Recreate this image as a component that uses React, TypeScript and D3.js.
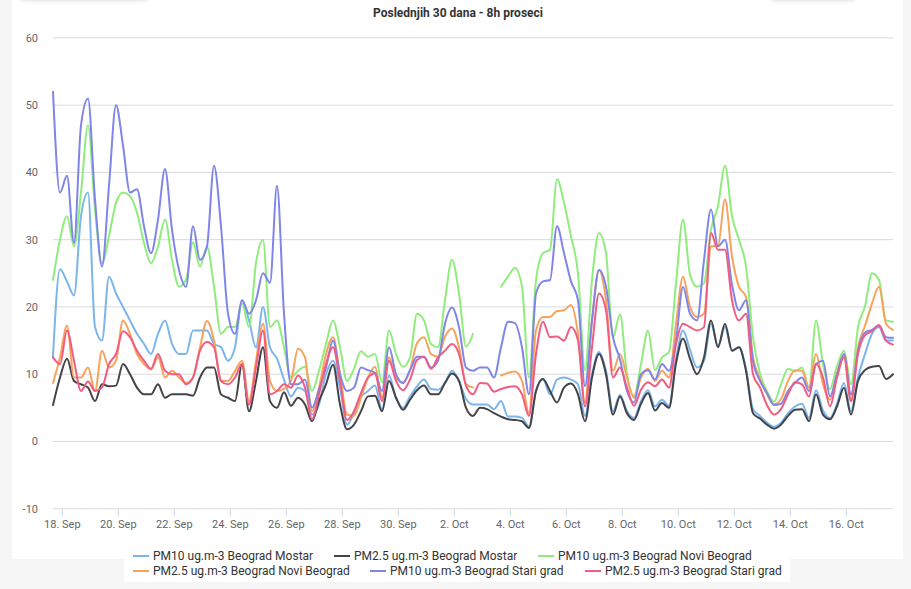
import React from 'react';
import * as d3 from 'd3';

// ---- data: 8h averages sampled every 6 hours from 17 Sep 16:00 ----
const START = Date.UTC(2019, 8, 17, 16);
const STEP_MS = 6 * 3600 * 1000;

const yTickValues = [-10, 0, 10, 20, 30, 40, 50, 60];
const xTickStart = Date.UTC(2019, 8, 18);
const xTickEnd = Date.UTC(2019, 9, 17);

const seriesNames = [
  'PM10 ug.m-3 Beograd Mostar',
  'PM2.5 ug.m-3 Beograd Mostar',
  'PM10 ug.m-3 Beograd Novi Beograd',
  'PM2.5 ug.m-3 Beograd Novi Beograd',
  'PM10 ug.m-3 Beograd Stari grad',
  'PM2.5 ug.m-3 Beograd Stari grad',
];
const seriesColors = ['#7cb5ec', '#434348', '#90ed7d', '#f7a35c', '#8085e9', '#f15c80'];

const pm10Mostar: (number | null)[] = [
  12.6, 25.6, 23.8, 21.7, 33.5, 37, 17, 15, 24.5, 22, 20, 18, 16, 14.5, 13, 16, 18, 14.5, 13, 13,
  16.5, 16.5, 16.5, 14.5, 14, 12, 14, 21, 18, 14, 20, 14, 12.3, 9.2, 6.7, 8, 7.5, 4, 5.5, 10,
  12, 8, 2.5, 4.2, 6.6, 7.5, 8.3, 4.7, 9.8, 6.5, 5, 6.7, 8.2, 9.2, 7.8, 7.7, 8.7, 10.5, 9, 6.3,
  5.5, 5.5, 5.5, 4.8, 6, 3.7, 3.7, 3.5, 2.2, 7.5, 9.3, 7, 9.2, 9.5, 9.2, 8.5, 3.8, 10, 13.3, 10.5,
  4.5, 6.9, 4.5, 3.5, 6, 7.6, 5.2, 6.2, 5.3, 12.2, 16.5, 13.6, 11, 12, 17.5, 14.2, 17, 13.5, 14, 10.8,
  4.8, 3.8, 2.8, 2.2, 2.8, 4.2, 5.2, 5.6, 3.5, 7.6, 4.6, 3.5, 5.6, 8.7, 4.5, 9.5, 13, 16, 17, 15,
  15,
];
const pm25Mostar: (number | null)[] = [
  5.4, 9.5, 12.3, 9, 8.5, 8, 6, 8.5, 8.2, 8.3, 11.5, 10, 8, 7, 7, 8.5, 6.5, 7, 7, 7,
  6.8, 9.5, 11, 11, 7, 6.5, 6, 11.5, 4.5, 9, 14, 6, 5, 7.3, 5.3, 6.5, 5.5, 3, 6, 8.5,
  11.4, 5.5, 1.8, 2.5, 4.5, 6.7, 6.8, 4.5, 9, 6.5, 4.7, 6.2, 7.6, 8.3, 7, 7, 8.7, 10.1, 9, 5,
  3.8, 5, 4.8, 4.2, 3.7, 3.3, 3.2, 3, 2, 7.5, 9.3, 7.5, 5.8, 8, 8.6, 7, 3, 9.5, 13, 10,
  4, 6.7, 4.2, 3.2, 5.6, 7.2, 4.6, 5.7, 5, 11.6, 15.3, 12.3, 10, 12.5, 18, 14, 17.5, 13.5, 14, 10.5,
  4.2, 3.4, 2.5, 1.9, 2.5, 3.8, 4.7, 4.8, 3, 7, 4, 3.3, 5.2, 8, 4, 9, 10.6, 11.1, 11.2, 9.3,
  10,
];
const pm10NoviBeograd: (number | null)[] = [
  24, 30, 33.5, 29, 37, 47, 34.5, 26.5, 30.5, 35.5, 37, 36.5, 34, 29.5, 26.5, 29, 33, 27, 23, 24,
  29.6, 26, 29, 23, 16, 17, 17, 20.5, 17, 26.5, 30, 17, 18, 14, 9.5, 10.5, 11.1, 7.5, 10.5, 14.5,
  18, 14, 9, 10.8, 13.4, 12.6, 13, 8.8, 16.5, 13, 11.1, 12.5, 19, 18, 14.5, 14, 21, 27, 22, 14.1,
  16, null, null, null, 23, 24.5, 25.8, 23, 9.5, 24, 28, 28.5, 39, 35.5, 30.5, 25, 10.6, 24, 31, 28,
  15.5, 18.9, 10, 6.8, 11.5, 16.5, 10.6, 12.5, 13.3, 23.5, 33, 24.8, 23, 23.5, 31.5, 35, 41, 33.5, 30, 26,
  15.5, 10.1, 7.5, 5.9, 8.5, 10.8, 10.4, 11, 8, 18, 11.5, 7.8, 11.2, 13.5, 8.5, 17, 20.1, 25, 24, 18,
  17.8,
];
const pm25NoviBeograd: (number | null)[] = [
  8.7, 12.5, 17.2, 9.5, 9.5, 11, 7.5, 13.5, 11, 12, 18, 16, 13, 11.5, 10.7, 12.5, 9.5, 10.5, 9.5, 8.7,
  9.5, 14, 17.9, 15, 9, 9, 10.5, 12, 6, 12, 17.5, 9, 7.5, 7.8, 9, 13.8, 12.5, 4.5, 8, 13,
  15.5, 10, 4, 3.8, 6.5, 9.5, 11.1, 6.5, 12.5, 9.5, 8.7, 10.6, 14.6, 15.5, 13, 12.6, 15.6, 16.8, 14, 8.5,
  8, null, null, null, 9.8, 10.2, 10.4, 9, 4.2, 16.5, 18.5, 18.5, 19.4, 19.5, 20.3, 16, 5.8, 18, 25.5, 21,
  10.5, 13, 9.5, 6.5, 9.5, 10.8, 9, 10.5, 9.5, 17.5, 24.5, 20, 18.5, 19, 29, 29.1, 36, 27.5, 23, 21.5,
  12.5, 9.3, 7, 5.5, 6.3, 9, 10.6, 10.5, 8, 13, 8.5, 6.2, 10, 12.8, 6, 14, 17.2, 20.5, 23, 17.5,
  16.6,
];
const pm10StariGrad: (number | null)[] = [
  52, 37, 39.5, 29.5, 47, 51, 36, 26, 38, 50, 44, 37, 37.5, 32, 28, 33, 40.5, 31.5, 25.5, 23,
  32, 27, 29, 41, 32, 19, 16, 21, 19, 21, 25, 23.6, 38, 19, 8.5, 8.5, 9.2, 5, 7.7, 11,
  15, 10, 7.5, 8, 11, 10.6, 10.2, 7.5, 14, 10, 8.7, 10.6, 12.6, 12.6, 11, 12, 17.5, 19.9, 17, 11,
  10.5, 11, 11, 9.5, 14, 17.8, 17.6, 14, 7, 22, 23.8, 24, 32, 28, 23.8, 21, 8.2, 18, 25.5, 23,
  15.5, 12.2, 7.5, 5.8, 10, 10.6, 9.2, 11.5, 10.5, 15, 23, 19, 18, 27, 34.5, 29, 30, 23.3, 19.5, 21,
  12, 9, 7.2, 5.4, 5.6, 7.5, 8.7, 9.5, 7.5, 11.5, 12, 6.7, 10, 13, 7, 13.5, 16.2, 16.6, 17.2, 15.5,
  15.4,
];
const pm25StariGrad: (number | null)[] = [
  12.5, 11.5, 16.5, 12, 7.5, 8.9, 7.5, 8, 11.5, 13, 16.4, 15.5, 13.5, 12, 10.8, 13, 10.5, 10, 10, 8.5,
  9.5, 13.5, 14.8, 14, 9, 8.5, 9.5, 11.5, 5.5, 11, 16.5, 7, 7.5, 8.5, 8, 9.8, 8, 3.3, 7, 11.5,
  14, 9, 3.2, 4.5, 7.2, 9.5, 10.1, 6, 12, 9, 7.6, 9.2, 12.1, 12.6, 10.8, 12.5, 13.5, 14.5, 13, 8.3,
  7, 8.7, 8.6, 7.4, 7.8, 8.1, 8.2, 7, 3.8, 13, 17.8, 15.5, 15.6, 15, 17, 15, 5.2, 14, 22, 19.5,
  9.5, 11, 8, 5.3, 7.7, 8.8, 8.2, 9.2, 8, 14.5, 17.5, 17, 16.5, 17, 31, 28.5, 28.5, 21, 18, 19,
  10, 8, 5.4, 4, 4.8, 7, 8.8, 8.5, 6.7, 11.5, 9.5, 5.2, 9.5, 12.5, 6, 13, 15.8, 16.4, 17.3, 15,
  14.4,
];

const seriesValues = [pm10Mostar, pm25Mostar, pm10NoviBeograd, pm25NoviBeograd, pm10StariGrad, pm25StariGrad];

// legend layout (rows of items)
const legendRows = [
  { y: 556, items: [{ s: 0, x: 133 }, { s: 1, x: 334 }, { s: 2, x: 538 }] },
  { y: 571, items: [{ s: 3, x: 133 }, { s: 4, x: 370 }, { s: 5, x: 585 }] },
];

const FONT = 'Roboto, "Open Sans", Arial, sans-serif';

export default function App() {
  const W = 911;
  const H = 589;
  const plotLeft = 53;
  const plotRight = 893;
  const plotTop = 37.9;
  const plotBottom = 508.7;

  const n = pm10Mostar.length;
  const x = d3.scaleUtc().domain([START, START + (n - 1) * STEP_MS]).range([plotLeft, plotRight]);
  const y = d3.scaleLinear().domain([-10, 60]).range([plotBottom, plotTop]);

  const line = d3
    .line<number | null>()
    .defined((d) => d != null)
    .x((_, i) => x(START + i * STEP_MS))
    .y((d) => y(d as number))
    .curve(d3.curveMonotoneX);

  const xTicks = d3.utcDay.range(xTickStart, xTickEnd, 1).filter((_, i) => i % 2 === 0);
  const fmt = d3.utcFormat('%-d. %b');

  return (
    <div style={{ position: 'fixed', left: 0, top: 0, width: W, height: H }}>
      <svg width={W} height={H} style={{ display: 'block' }}>
        <defs>
          <filter id="btnShadow" x="-20%" y="-50%" width="140%" height="220%">
            <feDropShadow dx="0" dy="1" stdDeviation="2" floodColor="#000" floodOpacity="0.18" />
          </filter>
        </defs>
        <rect x={0} y={0} width={W} height={H} fill="#f6f6f6" />
        <rect x={12} y={-10} width={891} height={569} fill="#ffffff" />
        <rect x={20} y={-30} width={128} height={29} rx={3} fill="#ffffff" filter="url(#btnShadow)" />
        <rect x={771} y={-30} width={84} height={29} rx={3} fill="#ffffff" filter="url(#btnShadow)" />

        <text x={458} y={17} textAnchor="middle" fontFamily={FONT} fontSize={12} fontWeight="bold" fill="#333333">
          Poslednjih 30 dana - 8h proseci
        </text>

        {yTickValues.map((v) => (
          <g key={v}>
            <line x1={plotLeft} x2={plotRight} y1={y(v)} y2={y(v)} stroke="#dadada" strokeWidth={1} />
            <text x={38} y={y(v) + 4} textAnchor="end" fontFamily={FONT} fontSize={11} fill="#666666">
              {v}
            </text>
          </g>
        ))}

        {xTicks.map((d) => (
          <g key={+d}>
            <line x1={x(d)} x2={x(d)} y1={plotBottom} y2={plotBottom + 8} stroke="#ccd6eb" strokeWidth={1} />
            <text x={x(d)} y={plotBottom + 19} textAnchor="middle" fontFamily={FONT} fontSize={11} fill="#666666">
              {fmt(d)}
            </text>
          </g>
        ))}

        <g fill="none" strokeLinejoin="round" strokeLinecap="round">
          {seriesValues.map((vals, k) => (
            <path key={k} d={line(vals) || ''} stroke={seriesColors[k]} strokeWidth={2} />
          ))}
        </g>

        <rect x={124} y={548} width={666} height={34} fill="#ffffff" />
        {legendRows.map((row, r) => (
          <g key={r}>
            {row.items.map((it) => (
              <g key={it.s}>
                <line x1={it.x} x2={it.x + 16} y1={row.y} y2={row.y} stroke={seriesColors[it.s]} strokeWidth={2} />
                <text x={it.x + 20} y={row.y + 4} fontFamily={FONT} fontSize={12} fill="#333333">
                  {seriesNames[it.s]}
                </text>
              </g>
            ))}
          </g>
        ))}
      </svg>
    </div>
  );
}
